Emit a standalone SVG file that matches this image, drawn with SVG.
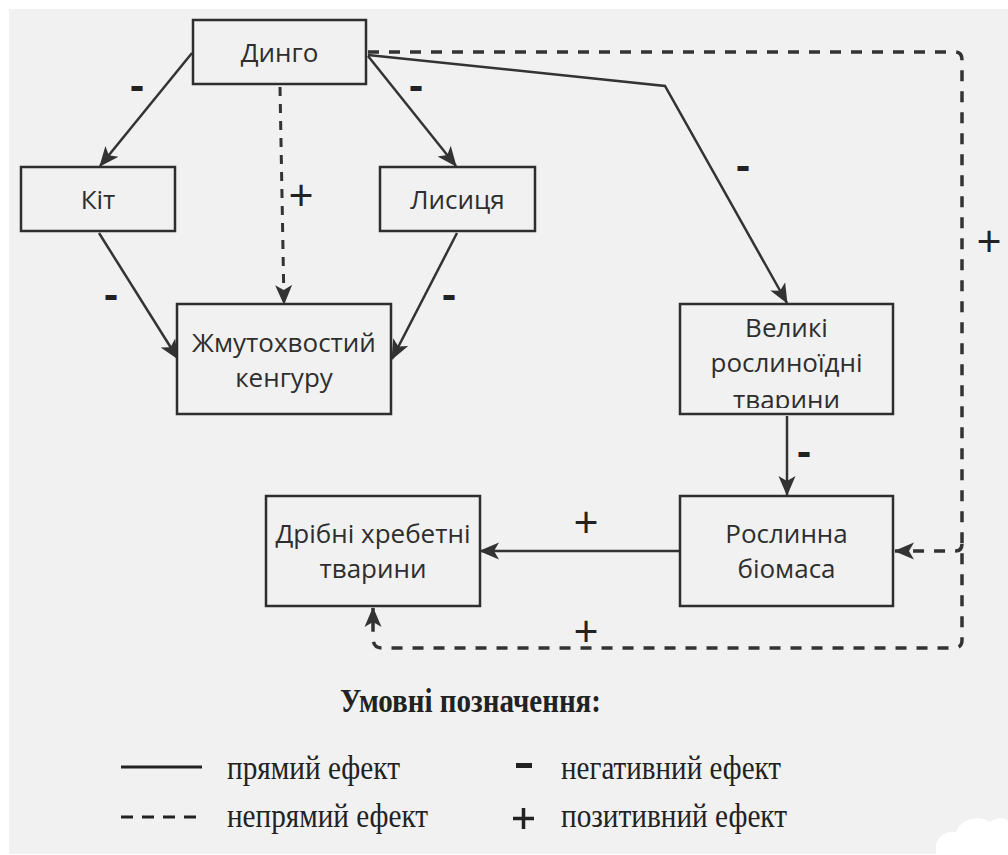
<svg xmlns="http://www.w3.org/2000/svg" width="1008" height="855" viewBox="0 0 1008 855">
<style>
.box{fill:#f1f1f1;stroke:#2e2e2e;stroke-width:2.5}
.t{font-family:"Open Sans","Noto Sans",sans-serif;font-size:26px;fill:#2e2e2e;text-anchor:middle}
.sol{fill:none;stroke:#333;stroke-width:2.5}
.dash{fill:none;stroke:#333;stroke-width:3.5;stroke-dasharray:11 10}
.dash2{fill:none;stroke:#333;stroke-width:3;stroke-dasharray:9 8}
.minus{font-family:"Open Sans","Noto Sans",sans-serif;font-size:42px;font-weight:700;fill:#222;text-anchor:middle}
.plus{font-family:"Open Sans","Noto Sans",sans-serif;font-size:44px;fill:#222;text-anchor:middle}
.lg{font-family:"Liberation Serif","Times New Roman",serif;font-size:33px;fill:#222}
</style>
<defs>
<marker id="ah" viewBox="0 0 20 20" refX="19" refY="10" markerWidth="20" markerHeight="20" markerUnits="userSpaceOnUse" orient="auto">
<path d="M0,1.5 L20,10 L0,18.5 L5,10 Z" fill="#333"/>
</marker>
<clipPath id="clipV"><rect x="680" y="304" width="213" height="104"/></clipPath>
</defs>
<rect x="9" y="9" width="999" height="845" fill="#f1f1f1"/>

<g id="connectors">
<path class="sol" d="M192,53 L100,166" marker-end="url(#ah)"/>
<path class="sol" d="M368,56 L456,166" marker-end="url(#ah)"/>
<path class="dash2" d="M280,87 L284,304" marker-end="url(#ah)"/>
<path class="sol" d="M99,233 L178,359" marker-end="url(#ah)"/>
<path class="sol" d="M457,233 L392,359" marker-end="url(#ah)"/>
<path class="sol" d="M368,55 L665,86 L787,303" marker-end="url(#ah)"/>
<path class="dash" d="M368,52 L955,52 Q962,52 962,60 L962,640 Q962,648 954,648 L382,648 Q373,648 373,638 L373,608" marker-end="url(#ah)"/>
<path class="dash" d="M962,544 Q962,551 955,551 L895,551" marker-end="url(#ah)"/>
<path class="sol" d="M680,551 L480,551" marker-end="url(#ah)"/>
<path class="sol" d="M787,416 L787,495" marker-end="url(#ah)"/>
</g>

<g id="labels">
<text class="minus" x="137" y="100">-</text>
<text class="minus" x="416" y="100">-</text>
<text class="minus" x="743" y="180">-</text>
<text class="minus" x="111" y="309">-</text>
<text class="minus" x="449" y="309">-</text>
<text class="minus" x="804" y="466">-</text>
<text class="plus" x="301" y="211">+</text>
<text class="plus" x="989" y="257">+</text>
<text class="plus" x="586" y="538">+</text>
<text class="plus" x="586" y="647">+</text>
</g>

<g id="n-dingo"><rect class="box" x="193" y="20" width="173" height="64"/><text class="t" x="279.5" y="62">Динго</text></g>
<g id="n-kit"><rect class="box" x="21" y="167" width="154" height="64"/><text class="t" x="98" y="209">Кіт</text></g>
<g id="n-lys"><rect class="box" x="380" y="167" width="155" height="64"/><text class="t" x="457.5" y="209">Лисиця</text></g>
<g id="n-kang"><rect class="box" x="177" y="304" width="214" height="110"/><text class="t" x="284" y="352">Жмутохвостий</text><text class="t" x="284" y="387">кенгуру</text></g>
<g id="n-vel"><rect class="box" x="680" y="304" width="213" height="110"/><g clip-path="url(#clipV)"><text class="t" x="786.5" y="337">Великі</text><text class="t" x="786.5" y="372">рослиноїдні</text><text class="t" x="786.5" y="409">тварини</text></g></g>
<g id="n-rosl"><rect class="box" x="680" y="496" width="213" height="110"/><text class="t" x="786.5" y="543">Рослинна</text><text class="t" x="786.5" y="578">біомаса</text></g>
<g id="n-dribni"><rect class="box" x="266" y="496" width="214" height="110"/><text class="t" x="373" y="543">Дрібні хребетні</text><text class="t" x="373" y="578">тварини</text></g>

<g id="legend">
<text class="lg" x="340" y="712" font-weight="700" font-size="30" textLength="261" lengthAdjust="spacingAndGlyphs">Умовні позначення:</text>
<line x1="121" y1="767" x2="202" y2="767" stroke="#222" stroke-width="3"/>
<line x1="121" y1="817" x2="200" y2="817" stroke="#222" stroke-width="3" stroke-dasharray="12 9"/>
<text class="lg" x="227" y="779" textLength="173" lengthAdjust="spacingAndGlyphs">прямий ефект</text>
<text class="lg" x="227" y="827" textLength="201" lengthAdjust="spacingAndGlyphs">непрямий ефект</text>
<rect x="516" y="763" width="16" height="5" fill="#222"/>
<path d="M523.5,808 V829 M513,818.5 H534" stroke="#222" stroke-width="3.5"/>
<text class="lg" x="561" y="779" textLength="220" lengthAdjust="spacingAndGlyphs">негативний ефект</text>
<text class="lg" x="561" y="827" textLength="226" lengthAdjust="spacingAndGlyphs">позитивний ефект</text>
</g>
<path d="M937,855 C932,842 942,830 956,832 C960,820 978,814 990,822 C998,816 1008,818 1008,822 L1008,855 Z" fill="#fff"/>
</svg>
